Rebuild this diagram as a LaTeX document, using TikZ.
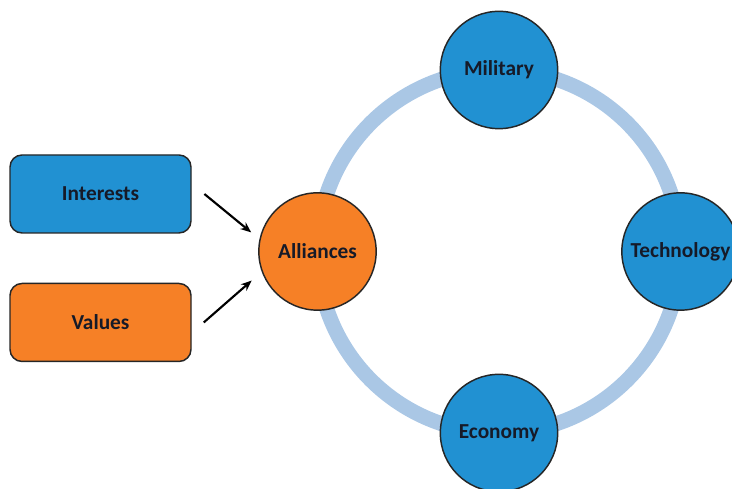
\documentclass[tikz,border=0pt]{standalone}
\usepackage{fontspec}
\setmainfont{Carlito}
\usetikzlibrary{positioning, arrows.meta}

\definecolor{pillarblue}{RGB}{33,145,210}
\definecolor{allyorange}{RGB}{246,128,38}
\definecolor{ringblue}{RGB}{170,199,229}
\definecolor{labelink}{RGB}{22,26,40}

\begin{document}
\begin{tikzpicture}[
    x=0.75pt, y=0.75pt,
    font=\fontsize{16}{19}\selectfont\bfseries,
    text=labelink,
    driver/.style={
        draw=black!85,
        line width=1.1pt,
        rectangle,
        rounded corners=9pt,
        minimum width=135.75pt,
        minimum height=58.5pt,
        align=center
    },
    pillar/.style={
        draw=black!85,
        line width=1.1pt,
        circle,
        minimum size=88pt,
        inner sep=0pt,
        fill=pillarblue,
        align=center
    },
    ring/.style={
        draw=ringblue,
        line width=11.25pt
    },
    arrow/.style={
        -{Stealth[length=8pt, width=6.5pt]},
        line width=1.6pt,
        black
    }
]
\clip (0,0) rectangle (732,489);

% Ring behind the circles
\coordinate (hub) at (499,237.5);
\draw[ring] (hub) circle (181.5);

% Circles on the ring
\node[pillar] (military) at ([shift={(90:181.5)}]hub) {Military};
\node[pillar] (technology) at ([shift={(0:181.5)}]hub) {Technology};
\node[pillar] (economy) at ([shift={(270:181.5)}]hub) {Economy};
\node[pillar, fill=allyorange] (alliances) at ([shift={(180:181.5)}]hub) {Alliances};

% Drivers
\node[driver, fill=pillarblue] (interests) at (100.5,295) {Interests};
\node[driver, fill=allyorange, below=36.75pt of interests] (values) {Values};

% Connections
\draw[arrow, shorten >=8pt] ([xshift=9.5pt]interests.east) -- (alliances.168);
\draw[arrow, shorten >=10pt] ([xshift=9pt]values.east) -- (alliances.200);

\end{tikzpicture}
\end{document}
